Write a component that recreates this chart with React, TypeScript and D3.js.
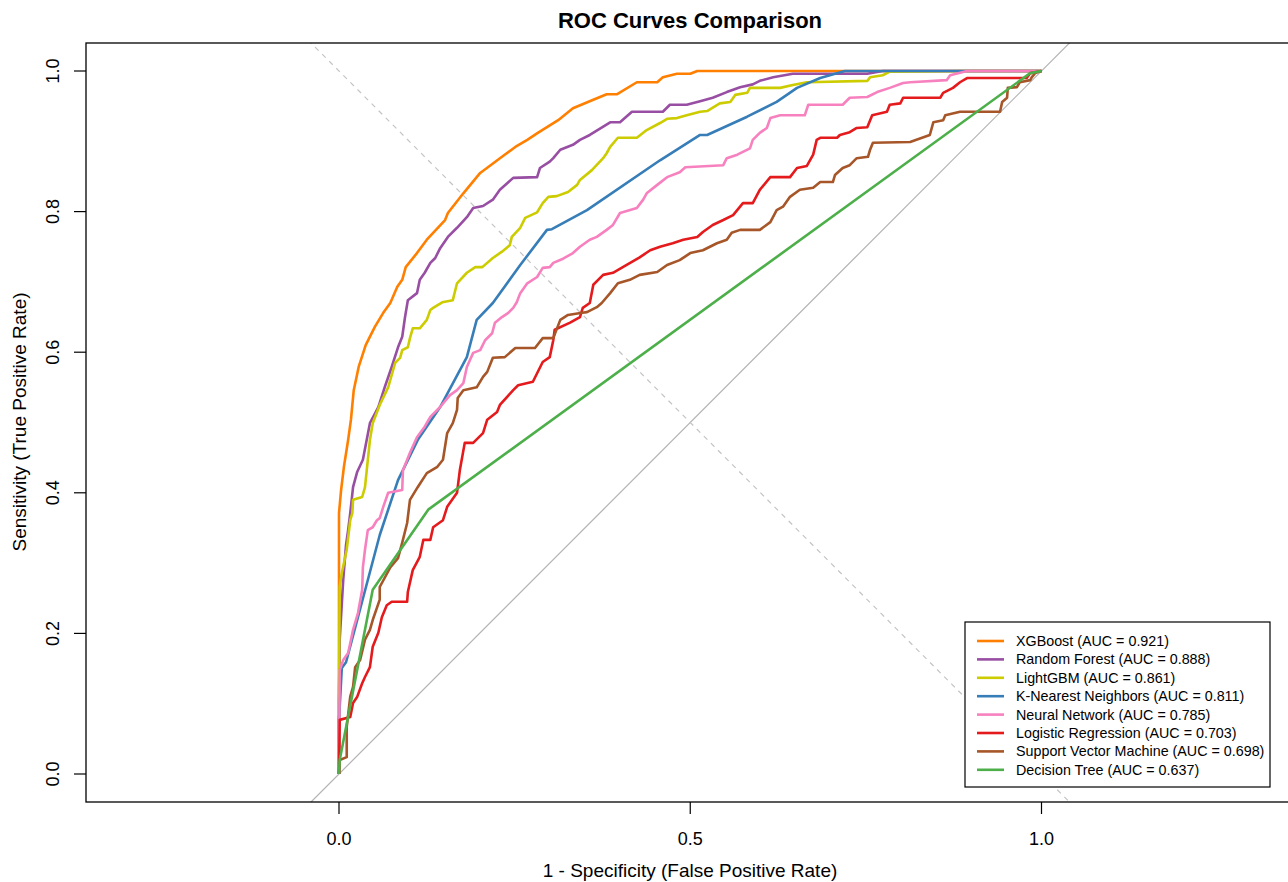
import { useEffect, useRef } from "react";
import * as d3 from "d3";

// [1 - specificity, sensitivity] pairs
const xgboost = [[0,0],[0,0.361],[0,0.371],[0.003,0.404],[0.007,0.437],[0.013,0.475],[0.017,0.504],[0.021,0.546],[0.028,0.579],[0.038,0.610],[0.051,0.636],[0.063,0.656],[0.073,0.670],[0.083,0.693],[0.090,0.703],[0.095,0.721],[0.111,0.741],[0.125,0.760],[0.151,0.788],[0.155,0.798],[0.177,0.826],[0.201,0.855],[0.212,0.863],[0.232,0.878],[0.251,0.892],[0.268,0.902],[0.283,0.912],[0.312,0.930],[0.333,0.947],[0.362,0.959],[0.381,0.967],[0.396,0.967],[0.424,0.984],[0.453,0.984],[0.461,0.991],[0.481,0.996],[0.500,0.996],[0.510,1],[1,1]];

const randomForest = [[0,0],[0,0.105],[0.001,0.191],[0.006,0.276],[0.010,0.326],[0.013,0.347],[0.016,0.371],[0.020,0.408],[0.026,0.430],[0.034,0.447],[0.044,0.499],[0.056,0.522],[0.065,0.550],[0.075,0.579],[0.084,0.607],[0.090,0.622],[0.094,0.650],[0.098,0.674],[0.111,0.684],[0.115,0.703],[0.122,0.713],[0.130,0.727],[0.137,0.734],[0.144,0.748],[0.155,0.764],[0.168,0.777],[0.182,0.792],[0.191,0.805],[0.205,0.808],[0.219,0.817],[0.229,0.831],[0.248,0.848],[0.282,0.849],[0.286,0.862],[0.300,0.871],[0.305,0.876],[0.315,0.888],[0.333,0.895],[0.343,0.902],[0.357,0.909],[0.386,0.927],[0.400,0.927],[0.417,0.942],[0.461,0.942],[0.471,0.952],[0.495,0.952],[0.514,0.957],[0.532,0.962],[0.552,0.970],[0.571,0.977],[0.589,0.981],[0.599,0.986],[0.618,0.991],[0.646,0.996],[0.752,0.996],[0.774,1],[1,1]];

const lightgbm = [[0,0],[0,0.077],[0,0.124],[0.001,0.266],[0.004,0.286],[0.011,0.319],[0.016,0.361],[0.019,0.371],[0.020,0.390],[0.033,0.394],[0.037,0.408],[0.040,0.437],[0.044,0.475],[0.048,0.499],[0.058,0.525],[0.070,0.550],[0.080,0.585],[0.087,0.592],[0.090,0.603],[0.098,0.607],[0.101,0.620],[0.105,0.634],[0.115,0.634],[0.125,0.646],[0.130,0.660],[0.134,0.663],[0.147,0.671],[0.162,0.674],[0.168,0.698],[0.182,0.713],[0.194,0.721],[0.204,0.721],[0.219,0.734],[0.232,0.743],[0.243,0.752],[0.246,0.764],[0.258,0.777],[0.265,0.791],[0.282,0.799],[0.290,0.812],[0.298,0.821],[0.310,0.822],[0.326,0.828],[0.339,0.838],[0.343,0.845],[0.360,0.859],[0.376,0.876],[0.381,0.883],[0.386,0.892],[0.397,0.905],[0.424,0.905],[0.438,0.916],[0.457,0.926],[0.467,0.932],[0.481,0.933],[0.495,0.937],[0.514,0.942],[0.524,0.943],[0.542,0.954],[0.557,0.956],[0.564,0.966],[0.581,0.969],[0.585,0.976],[0.628,0.976],[0.646,0.980],[0.666,0.984],[0.752,0.986],[0.756,0.991],[0.774,0.994],[0.784,0.999],[0.898,1],[1,1]];

const knn = [[0,0],[0,0.077],[0.004,0.151],[0.010,0.159],[0.058,0.340],[0.084,0.418],[0.112,0.475],[0.144,0.522],[0.182,0.593],[0.196,0.646],[0.219,0.670],[0.258,0.724],[0.296,0.774],[0.303,0.775],[0.353,0.802],[0.457,0.873],[0.514,0.909],[0.524,0.909],[0.581,0.935],[0.623,0.956],[0.652,0.976],[0.685,0.990],[0.720,1],[1,1]];

const neuralNet = [[0,0],[0.001,0.148],[0.006,0.162],[0.013,0.172],[0.016,0.186],[0.020,0.205],[0.027,0.229],[0.033,0.262],[0.034,0.294],[0.037,0.319],[0.041,0.347],[0.048,0.351],[0.054,0.361],[0.058,0.364],[0.063,0.380],[0.070,0.400],[0.090,0.404],[0.091,0.432],[0.101,0.457],[0.111,0.479],[0.122,0.494],[0.130,0.508],[0.144,0.522],[0.158,0.539],[0.168,0.546],[0.177,0.556],[0.182,0.579],[0.191,0.599],[0.201,0.603],[0.208,0.617],[0.218,0.627],[0.222,0.642],[0.232,0.650],[0.241,0.656],[0.248,0.663],[0.253,0.671],[0.258,0.684],[0.268,0.698],[0.282,0.707],[0.290,0.720],[0.300,0.721],[0.305,0.727],[0.319,0.733],[0.333,0.741],[0.343,0.750],[0.357,0.760],[0.367,0.764],[0.381,0.774],[0.390,0.781],[0.400,0.798],[0.424,0.805],[0.433,0.817],[0.438,0.826],[0.453,0.838],[0.467,0.849],[0.485,0.856],[0.493,0.863],[0.547,0.866],[0.552,0.876],[0.567,0.881],[0.585,0.890],[0.589,0.902],[0.599,0.912],[0.609,0.919],[0.614,0.933],[0.628,0.937],[0.663,0.937],[0.668,0.952],[0.717,0.952],[0.727,0.962],[0.752,0.963],[0.766,0.970],[0.784,0.976],[0.803,0.983],[0.813,0.984],[0.865,0.987],[0.870,0.994],[0.894,1],[1,1]];

const logistic = [[0,0],[0.001,0.077],[0.016,0.081],[0.020,0.101],[0.026,0.110],[0.033,0.129],[0.037,0.138],[0.044,0.152],[0.048,0.181],[0.056,0.201],[0.061,0.223],[0.068,0.240],[0.075,0.245],[0.097,0.245],[0.098,0.259],[0.105,0.290],[0.115,0.309],[0.120,0.333],[0.130,0.333],[0.134,0.351],[0.148,0.361],[0.154,0.380],[0.168,0.400],[0.172,0.432],[0.179,0.471],[0.191,0.471],[0.205,0.485],[0.211,0.504],[0.225,0.515],[0.229,0.525],[0.248,0.546],[0.255,0.553],[0.276,0.558],[0.282,0.570],[0.290,0.586],[0.300,0.593],[0.305,0.617],[0.307,0.632],[0.329,0.642],[0.343,0.650],[0.347,0.663],[0.357,0.670],[0.362,0.696],[0.376,0.710],[0.390,0.713],[0.404,0.721],[0.428,0.735],[0.443,0.745],[0.457,0.750],[0.475,0.755],[0.490,0.760],[0.510,0.764],[0.518,0.771],[0.532,0.781],[0.547,0.788],[0.561,0.795],[0.575,0.812],[0.589,0.812],[0.599,0.831],[0.614,0.849],[0.642,0.849],[0.652,0.862],[0.666,0.865],[0.675,0.881],[0.680,0.902],[0.685,0.905],[0.709,0.905],[0.713,0.909],[0.727,0.913],[0.737,0.919],[0.752,0.920],[0.759,0.937],[0.780,0.942],[0.784,0.952],[0.799,0.954],[0.803,0.962],[0.856,0.962],[0.860,0.969],[0.874,0.976],[0.884,0.984],[0.894,0.990],[0.979,0.990],[0.984,0.997],[1,1]];

const svm = [[0,0],[0.001,0.020],[0.011,0.024],[0.011,0.067],[0.016,0.110],[0.020,0.124],[0.023,0.152],[0.030,0.162],[0.037,0.191],[0.044,0.205],[0.048,0.219],[0.058,0.248],[0.058,0.266],[0.073,0.294],[0.084,0.307],[0.090,0.329],[0.097,0.357],[0.101,0.390],[0.112,0.408],[0.125,0.428],[0.140,0.437],[0.148,0.447],[0.154,0.485],[0.162,0.499],[0.168,0.518],[0.169,0.535],[0.177,0.546],[0.196,0.550],[0.205,0.565],[0.211,0.572],[0.219,0.592],[0.236,0.593],[0.251,0.606],[0.279,0.606],[0.290,0.620],[0.305,0.620],[0.315,0.646],[0.326,0.653],[0.346,0.656],[0.353,0.657],[0.367,0.664],[0.374,0.670],[0.386,0.684],[0.397,0.698],[0.414,0.703],[0.428,0.710],[0.453,0.714],[0.467,0.724],[0.485,0.731],[0.500,0.741],[0.518,0.745],[0.538,0.755],[0.552,0.760],[0.559,0.770],[0.571,0.774],[0.599,0.774],[0.614,0.785],[0.623,0.802],[0.632,0.807],[0.642,0.821],[0.656,0.831],[0.675,0.834],[0.685,0.842],[0.703,0.842],[0.706,0.852],[0.717,0.862],[0.727,0.866],[0.737,0.876],[0.753,0.878],[0.756,0.888],[0.760,0.898],[0.813,0.899],[0.841,0.909],[0.846,0.927],[0.860,0.930],[0.863,0.937],[0.884,0.942],[0.941,0.942],[0.944,0.956],[0.951,0.962],[0.952,0.976],[0.965,0.977],[0.969,0.984],[0.984,0.987],[0.986,0.991],[0.991,0.997],[1,1]];

const decisionTree = [[0,0],[0.001,0.020],[0.048,0.262],[0.127,0.376],[0.984,0.997],[1,1]];

const modelNames = ["XGBoost", "Random Forest", "LightGBM", "K-Nearest Neighbors", "Neural Network", "Logistic Regression", "Support Vector Machine", "Decision Tree"];
const aucValues = ["0.921", "0.888", "0.861", "0.811", "0.785", "0.703", "0.698", "0.637"];
const colors = ["#FF7F00", "#984EA3", "#CCCC00", "#377EB8", "#F781BF", "#E41A1C", "#A65628", "#4DAF4A"];
const curves = [xgboost, randomForest, lightgbm, knn, neuralNet, logistic, svm, decisionTree];
const ticks = [0, 0.2, 0.4, 0.6, 0.8, 1.0];
const xTicks = [0, 0.5, 1.0];

export default function App() {
  const svgRef = useRef(null);

  useEffect(() => {
    const width = 1288;
    const height = 882;
    const box = { left: 86, top: 43, right: 1292, bottom: 802 };
    const font = "'Liberation Sans', Arial, Helvetica, sans-serif";

    const svg = d3.select(svgRef.current);
    svg.selectAll("*").remove();
    svg.attr("width", width).attr("height", height).style("background", "#fff");

    const x = d3.scaleLinear().domain([0, 1]).range([339, 1041.5]);
    const y = d3.scaleLinear().domain([0, 1]).range([774, 71]);

    svg.append("defs").append("clipPath").attr("id", "plotclip")
      .append("rect")
      .attr("x", box.left).attr("y", box.top)
      .attr("width", box.right - box.left).attr("height", box.bottom - box.top);

    const plot = svg.append("g").attr("clip-path", "url(#plotclip)");

    // reference diagonals
    plot.append("line")
      .attr("x1", x(-1)).attr("y1", y(-1)).attr("x2", x(2)).attr("y2", y(2))
      .attr("stroke", "#b3b3b3").attr("stroke-width", 1.2);
    plot.append("line")
      .attr("x1", x(-1)).attr("y1", y(2)).attr("x2", x(2)).attr("y2", y(-1))
      .attr("stroke", "#c4c4c4").attr("stroke-width", 1.2)
      .attr("stroke-dasharray", "5,5");

    const line = d3.line().x((d) => x(d[0])).y((d) => y(d[1]));

    curves.forEach((c, i) => {
      plot.append("path")
        .datum(c)
        .attr("d", line)
        .attr("fill", "none")
        .attr("stroke", colors[i])
        .attr("stroke-width", 2.6)
        .attr("stroke-linejoin", "round");
    });

    // frame
    svg.append("rect")
      .attr("x", box.left).attr("y", box.top)
      .attr("width", box.right - box.left).attr("height", box.bottom - box.top)
      .attr("fill", "none").attr("stroke", "#000").attr("stroke-width", 1.3);

    // axes
    const xAxis = svg.append("g");
    xTicks.forEach((t) => {
      xAxis.append("line")
        .attr("x1", x(t)).attr("x2", x(t)).attr("y1", box.bottom).attr("y2", box.bottom + 12)
        .attr("stroke", "#000").attr("stroke-width", 1.2);
      xAxis.append("text")
        .attr("x", x(t)).attr("y", 845)
        .attr("text-anchor", "middle")
        .style("font-family", font).style("font-size", "18px")
        .text(t.toFixed(1));
    });

    const yAxis = svg.append("g");
    ticks.forEach((t) => {
      yAxis.append("line")
        .attr("x1", box.left - 12).attr("x2", box.left).attr("y1", y(t)).attr("y2", y(t))
        .attr("stroke", "#000").attr("stroke-width", 1.2);
      yAxis.append("text")
        .attr("transform", `translate(59, ${y(t)}) rotate(-90)`)
        .attr("text-anchor", "middle")
        .style("font-family", font).style("font-size", "18px")
        .text(t.toFixed(1));
    });

    svg.append("text")
      .attr("x", 690).attr("y", 877)
      .attr("text-anchor", "middle")
      .style("font-family", font).style("font-size", "19px")
      .text("1 - Specificity (False Positive Rate)");

    svg.append("text")
      .attr("transform", `translate(26, 422) rotate(-90)`)
      .attr("text-anchor", "middle")
      .style("font-family", font).style("font-size", "19px")
      .text("Sensitivity (True Positive Rate)");

    svg.append("text")
      .attr("x", 690).attr("y", 28)
      .attr("text-anchor", "middle")
      .style("font-family", font).style("font-size", "22px").style("font-weight", "bold")
      .text("ROC Curves Comparison");

    // legend
    const legend = svg.append("g");
    legend.append("rect")
      .attr("x", 965).attr("y", 622).attr("width", 305).attr("height", 165)
      .attr("fill", "#fff").attr("stroke", "#000").attr("stroke-width", 1.2);
    modelNames.forEach((name, i) => {
      const ly = 641 + i * 18.4;
      legend.append("line")
        .attr("x1", 977).attr("x2", 1004).attr("y1", ly).attr("y2", ly)
        .attr("stroke", colors[i]).attr("stroke-width", 2.6);
      legend.append("text")
        .attr("x", 1016).attr("y", ly + 5)
        .style("font-family", font).style("font-size", "14.3px")
        .text(`${name} (AUC = ${aucValues[i]})`);
    });
  }, []);

  return (
    <svg ref={svgRef} style={{ position: "absolute", left: 0, top: 0 }}></svg>
  );
}
